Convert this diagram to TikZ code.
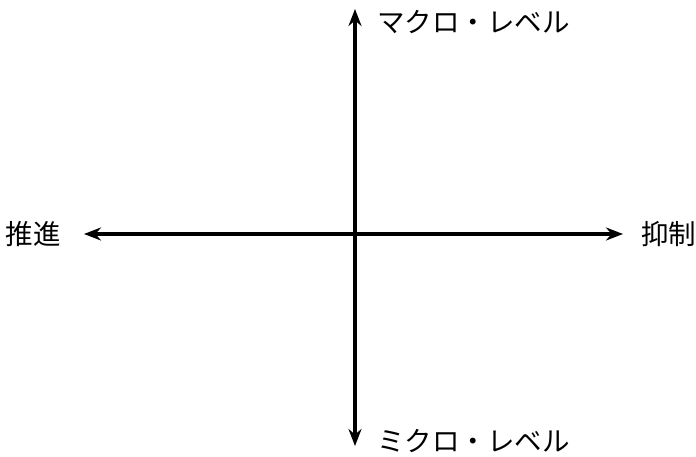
\documentclass[tikz,border=0pt]{standalone}
\usepackage{fontspec}
\newfontfamily\jpfont{Noto Sans CJK JP}
\usetikzlibrary{arrows.meta,positioning}

\begin{document}
\begin{tikzpicture}[x=1pt,y=-1pt,
  axis/.style={line width=3.2pt,{Stealth[length=17pt,width=13pt]}-{Stealth[length=17pt,width=13pt]}},
  lbl/.style={font=\jpfont\fontsize{27.5}{30}\selectfont,inner sep=0pt}]
  \useasboundingbox (0,0) rectangle (696,457);
  \coordinate (top) at (355,9);
  \coordinate (bottom) at (355,446);
  \coordinate (left) at (84,234);
  \coordinate (right) at (623,234);
  % axes
  \draw[axis] (bottom) -- (top);
  \draw[axis] (left) -- (right);
  % labels
  \node[lbl,anchor=west] (macro) at (377,22) {マクロ・レベル};
  \node[lbl,anchor=west] (micro) at (377,441) {ミクロ・レベル};
  \node[lbl,anchor=east] (promote) at (61,234) {推進};
  \node[lbl,anchor=west] (inhibit) at (641,234) {抑制};
\end{tikzpicture}
\end{document}
